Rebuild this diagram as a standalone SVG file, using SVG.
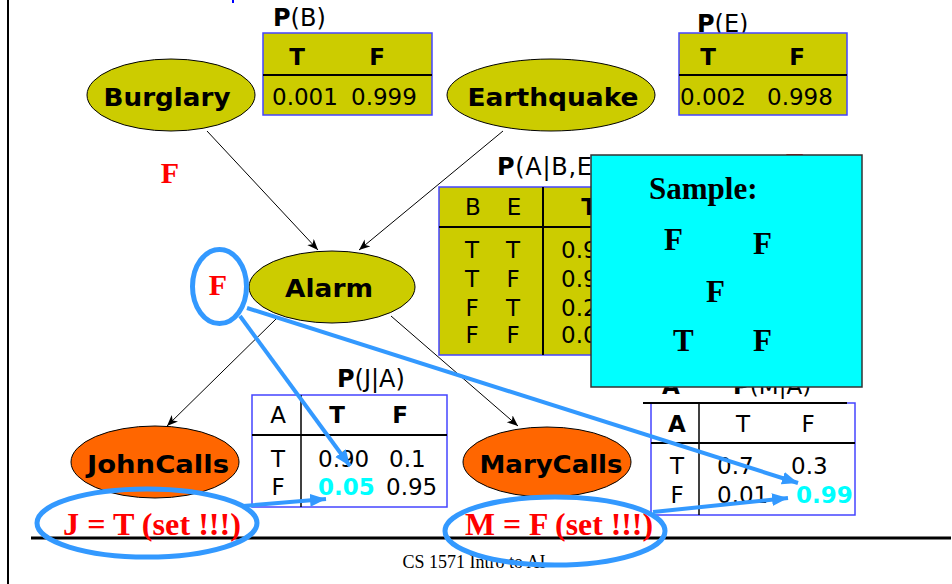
<svg xmlns="http://www.w3.org/2000/svg" width="952" height="584" viewBox="0 0 952 584">
<style>
.node text{font-family:"DejaVu Sans",Verdana,sans-serif;font-weight:bold;font-size:25px;text-anchor:middle;fill:#000}
.olive{fill:#CCCC00;stroke:#000;stroke-width:1}
.orange{fill:#FF6600;stroke:#000;stroke-width:1}
.tbl{stroke:#4444ff;stroke-width:1.5}
.t{font-family:"DejaVu Sans",Verdana,sans-serif;font-size:23px;fill:#000}
.ti{font-size:24px}
.b{font-weight:bold}
.c{text-anchor:middle}
.cy{fill:#00FFFF;font-weight:bold}
.hl{stroke:#000;stroke-width:2}
.vl{stroke:#000;stroke-width:1.5}
.red{font-family:"Liberation Serif","Times New Roman",serif;font-weight:bold;fill:#FF0000}
.edge{stroke:#000;stroke-width:1;fill:none;marker-end:url(#ah)}
.blue{stroke:#3399FF;stroke-width:5;fill:none}
.barrow{stroke:#3399FF;stroke-width:4;fill:none;marker-end:url(#bh)}
.sam{font-family:"Liberation Serif","Times New Roman",serif;font-weight:bold;font-size:31px;fill:#000}
</style>
<defs>
<marker id="ah" markerUnits="userSpaceOnUse" markerWidth="12" markerHeight="10" refX="11" refY="4.5" orient="auto">
<path d="M0,0 L11,4.5 L0,9 L3,4.5 z" fill="#000"/>
</marker>
<marker id="bh" markerUnits="userSpaceOnUse" markerWidth="18" markerHeight="14" refX="16" refY="6.5" orient="auto">
<path d="M0,0 L16,6.5 L0,13 z" fill="#3399FF"/>
</marker>
</defs>
<rect width="952" height="584" fill="#fff"/>
<line x1="8" y1="0" x2="8" y2="584" stroke="#000" stroke-width="2"/>
<line x1="31" y1="538" x2="951" y2="538" stroke="#000" stroke-width="3"/>
<line x1="233" y1="0" x2="233" y2="3" stroke="#0000FF" stroke-width="2"/>
<text x="474" y="568" font-family="Liberation Serif,'Times New Roman',serif" font-size="18" text-anchor="middle">CS 1571 Intro to AI</text>

<g id="connectors">
<line class="edge" x1="207" y1="131" x2="318" y2="250"/>
<line class="edge" x1="503" y1="131" x2="359" y2="250"/>
<line class="edge" x1="276" y1="319" x2="167" y2="426"/>
<line class="edge" x1="391" y1="316" x2="518" y2="426"/>
</g>

<g id="cpt-B">
<text class="t ti" x="273" y="26"><tspan class="b">P</tspan>(B)</text>
<rect class="olive tbl" x="263" y="33" width="169" height="82"/>
<line class="hl" x1="263" y1="75" x2="432" y2="75"/>
<text class="t b c" x="297" y="65">T</text>
<text class="t b c" x="377" y="65">F</text>
<text class="t" x="272" y="105">0.001</text>
<text class="t" x="351" y="105">0.999</text>
</g>

<g id="cpt-E">
<text class="t ti" x="697" y="32"><tspan class="b">P</tspan>(E)</text>
<rect class="olive tbl" x="679" y="33" width="168" height="82"/>
<line class="hl" x1="679" y1="75" x2="847" y2="75"/>
<text class="t b c" x="708" y="65">T</text>
<text class="t b c" x="797" y="65">F</text>
<text class="t" x="680" y="105">0.002</text>
<text class="t" x="767" y="105">0.998</text>
</g>

<g id="node-burglary" class="node">
<ellipse class="olive" cx="171" cy="95" rx="84" ry="36"/>
<text x="167" y="106" textLength="127" lengthAdjust="spacingAndGlyphs">Burglary</text>
</g>
<g id="node-earthquake" class="node">
<ellipse class="olive" cx="551" cy="95" rx="104" ry="36"/>
<text x="553" y="106" textLength="171" lengthAdjust="spacingAndGlyphs">Earthquake</text>
</g>

<text class="red" x="170" y="183" font-size="30" text-anchor="middle">F</text>
<text class="red" x="786" y="173" font-size="30">F</text>

<g id="cpt-A">
<text class="t ti" x="497" y="175" textLength="105" lengthAdjust="spacing"><tspan class="b">P</tspan>(A|B,E)</text>
<rect class="olive tbl" x="439" y="187" width="280" height="168"/>
<line class="hl" x1="439" y1="227" x2="719" y2="227"/>
<line class="hl" x1="543" y1="187" x2="543" y2="355"/>
<text class="t c" x="473" y="215">B</text>
<text class="t c" x="514" y="215">E</text>
<text class="t b c" x="589" y="215">T</text>
<text class="t c" x="472" y="258">T</text><text class="t c" x="513" y="258">T</text><text class="t" x="561" y="258">0.95</text>
<text class="t c" x="472" y="287">T</text><text class="t c" x="513" y="287">F</text><text class="t" x="561" y="287">0.94</text>
<text class="t c" x="472" y="316">F</text><text class="t c" x="513" y="316">T</text><text class="t" x="561" y="316">0.29</text>
<text class="t c" x="472" y="343">F</text><text class="t c" x="513" y="343">F</text><text class="t" x="561" y="343">0.001</text>
</g>

<g id="node-alarm" class="node">
<ellipse class="olive" cx="332" cy="287" rx="83" ry="36"/>
<text x="329" y="297" textLength="88" lengthAdjust="spacingAndGlyphs">Alarm</text>
</g>
<text class="red" x="218" y="295" font-size="30" text-anchor="middle">F</text>

<g id="cpt-J">
<text class="t ti" x="337" y="387"><tspan class="b">P</tspan>(J|A)</text>
<rect class="tbl" fill="#fff" x="252" y="395" width="195" height="112"/>
<line class="hl" x1="252" y1="435" x2="447" y2="435"/>
<line class="vl" x1="301" y1="395" x2="301" y2="507"/>
<text class="t c" x="278" y="423">A</text>
<text class="t b c" x="337" y="423">T</text>
<text class="t b c" x="400" y="423">F</text>
<text class="t c" x="278" y="467">T</text>
<text class="t" x="318" y="467">0.90</text>
<text class="t" x="389" y="467">0.1</text>
<text class="t c" x="278" y="495">F</text>
<text class="t cy" x="318" y="495">0.05</text>
<text class="t" x="386" y="495">0.95</text>
</g>

<g id="cpt-M">
<text class="t b" x="662" y="394">A</text>
<text class="t" x="733" y="394"><tspan class="b">P</tspan>(M|A)</text>
<rect class="tbl" fill="#fff" x="651" y="403" width="204" height="112"/>
<line class="hl" x1="643" y1="403" x2="847" y2="403"/>
<line class="hl" x1="651" y1="443" x2="855" y2="443"/>
<line class="vl" x1="699" y1="403" x2="699" y2="515"/>
<text class="t b c" x="677" y="432">A</text>
<text class="t c" x="743" y="432">T</text>
<text class="t c" x="808" y="432">F</text>
<text class="t c" x="677" y="474">T</text>
<text class="t" x="717" y="474">0.7</text>
<text class="t" x="791" y="474">0.3</text>
<text class="t c" x="677" y="503">F</text>
<text class="t" x="717" y="503">0.01</text>
<text class="t cy" x="796" y="503">0.99</text>
</g>

<g id="node-johncalls" class="node">
<ellipse class="orange" cx="155" cy="462" rx="84" ry="36"/>
<text x="158" y="473" textLength="142" lengthAdjust="spacingAndGlyphs">JohnCalls</text>
</g>
<g id="node-marycalls" class="node">
<ellipse class="orange" cx="547" cy="462" rx="84" ry="35"/>
<text x="551" y="473" textLength="143" lengthAdjust="spacingAndGlyphs">MaryCalls</text>
</g>

<g id="sample-box">
<rect x="591" y="155" width="271" height="232" fill="#00FFFF" stroke="#333" stroke-width="1.5"/>
<text class="sam" x="649" y="199">Sample:</text>
<text class="sam" x="664" y="250">F</text>
<text class="sam" x="753" y="254">F</text>
<text class="sam" x="706" y="302">F</text>
<text class="sam" x="673" y="351">T</text>
<text class="sam" x="753" y="351">F</text>
</g>

<g id="annotations">
<ellipse class="blue" cx="219.5" cy="286.5" rx="27" ry="37"/>
<line class="barrow" x1="240" y1="316" x2="350" y2="466"/>
<line class="barrow" x1="247" y1="308" x2="798" y2="483"/>
<text class="red" x="63" y="535" font-size="31" textLength="178" lengthAdjust="spacingAndGlyphs">J = T (set !!!)</text>
<ellipse class="blue" cx="147" cy="523" rx="110" ry="34"/>
<line class="barrow" x1="243" y1="506" x2="326" y2="499"/>
<text class="red" x="465" y="535" font-size="31" textLength="188" lengthAdjust="spacingAndGlyphs">M = F (set !!!)</text>
<ellipse class="blue" cx="555" cy="531" rx="110" ry="34"/>
<line class="barrow" x1="653" y1="512" x2="788" y2="498"/>
</g>
</svg>
